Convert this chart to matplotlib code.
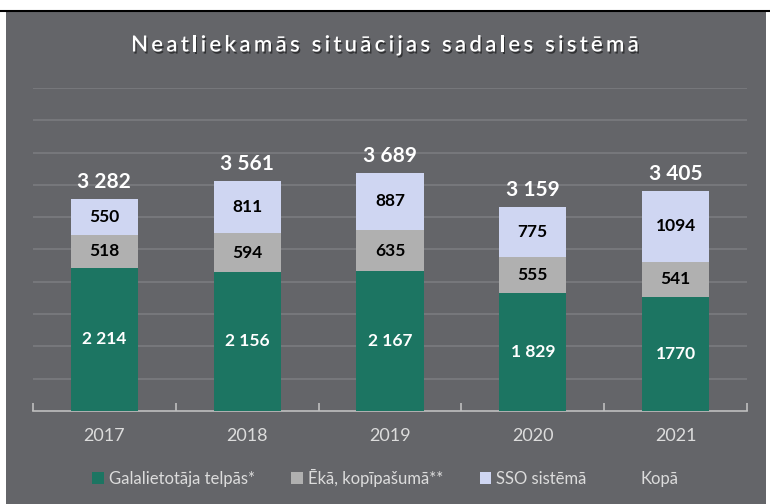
import matplotlib.pyplot as plt
import matplotlib.patheffects as pe
from matplotlib.patches import Patch, Rectangle
from matplotlib.lines import Line2D

years = ["2017", "2018", "2019", "2020", "2021"]
end_user = [2214, 2156, 2167, 1829, 1770]
building = [518, 594, 635, 555, 541]
sso = [550, 811, 887, 775, 1094]
totals = [3282, 3561, 3689, 3159, 3405]
end_user_labels = ["2 214", "2 156", "2 167", "1 829", "1770"]
total_labels = ["3 282", "3 561", "3 689", "3 159", "3 405"]
legend_names = ["Galalietotāja telpās*", "Ēkā, kopīpašumā**", "SSO sistēmā", "Kopā"]
title = "Neatliekamās situācijas sadales sistēmā"

BG = "#646569"
GREEN = "#1c7562"
GRAY = "#b0b0b0"
LAV = "#cfd6f2"
TXT = "#dcdcdc"

plt.rcParams["font.family"] = ["Lato", "DejaVu Sans"]

fig = plt.figure(figsize=(7.7, 5.04), dpi=100)
fig.patch.set_facecolor("white")
W, H = 770, 504
fig.patches.append(Rectangle((6 / W, 0), 760 / W, 492 / H, transform=fig.transFigure,
                             facecolor=BG, edgecolor="none", zorder=-10))
fig.lines.append(Line2D([0, 1], [1 - 11 / H, 1 - 11 / H], transform=fig.transFigure,
                        color="black", lw=1.5, zorder=-5))

ax = fig.add_axes([33 / W, (H - 411) / H, 714 / W, 323 / H])
ax.set_zorder(2)
ax.set_facecolor("none")
x = range(len(years))
bw = 0.47
ax.bar(x, end_user, bw, color=GREEN, zorder=3)
ax.bar(x, building, bw, bottom=end_user, color=GRAY, zorder=3)
bot2 = [a + b for a, b in zip(end_user, building)]
ax.bar(x, sso, bw, bottom=bot2, color=LAV, zorder=3)

for i in x:
    ax.text(i, end_user[i] / 2, end_user_labels[i], ha="center", va="center",
            color="white", fontsize=12.5, fontweight="bold", zorder=4)
    ax.text(i, end_user[i] + building[i] / 2, str(building[i]), ha="center", va="center",
            color="black", fontsize=12.5, fontweight="bold", zorder=4)
    ax.text(i, bot2[i] + sso[i] / 2, str(sso[i]), ha="center", va="center",
            color="black", fontsize=12.5, fontweight="bold", zorder=4)
    ax.annotate(total_labels[i], (i, totals[i]), xytext=(0, 5), textcoords="offset points",
                ha="center", va="bottom", color="white", fontsize=15, fontweight="bold", zorder=4)

ax.set_xlim(-0.5, len(years) - 0.5)
ax.set_ylim(0, 5000)
ax.set_yticks(range(500, 5001, 500))
ax.yaxis.grid(True, color="#7a7b7f", lw=1.2)
ax.set_axisbelow(True)
ax.tick_params(axis="y", left=False, labelleft=False)
for s in ["top", "right", "left"]:
    ax.spines[s].set_visible(False)
ax.spines["bottom"].set_color("#bfbfbf")
ax.spines["bottom"].set_linewidth(1.2)
ax.set_xticks([-0.5, 0.5, 1.5, 2.5, 3.5, 4.5])
ax.set_xticklabels([])
ax.tick_params(axis="x", which="major", color="#bfbfbf", length=6, direction="in", width=1.2)
ax.set_xticks(list(x), minor=True)
ax.set_xticklabels(years, minor=True)
ax.tick_params(axis="x", which="minor", length=0, pad=12, labelsize=13, labelcolor=TXT)

# title with letter spacing, drawn char by char
renderer = fig.canvas.get_renderer()
shadow = [pe.withSimplePatchShadow(offset=(1, -1.5), shadow_rgbFace="black", alpha=0.5)]
tkw = dict(color="white", fontsize=16, fontweight="semibold", va="center", ha="left",
           path_effects=shadow)
spacing = 3.2
widths = []
for ch in title:
    if ch == " ":
        widths.append(5.5)
        continue
    t = fig.text(0, 0, ch, **tkw)
    widths.append(t.get_window_extent(renderer).width)
    t.remove()
total_w = sum(widths) + spacing * (len(title) - 1)
xpos = W / 2 - total_w / 2
for ch, w in zip(title, widths):
    if ch != " ":
        fig.text(xpos / W, 1 - 45 / H, ch, **tkw)
    xpos += w + spacing

handles = [Patch(facecolor=GREEN), Patch(facecolor=GRAY), Patch(facecolor=LAV),
           Patch(facecolor="none", edgecolor="none")]
fig.legend(handles, legend_names, loc="center", bbox_to_anchor=(0.5, 1 - 478 / H), ncol=4,
           frameon=False, fontsize=12, labelcolor=TXT, handlelength=0.7, handleheight=0.7,
           handletextpad=0.3, columnspacing=2.2)

fig.savefig("out.png", dpi=100, facecolor=fig.get_facecolor())
